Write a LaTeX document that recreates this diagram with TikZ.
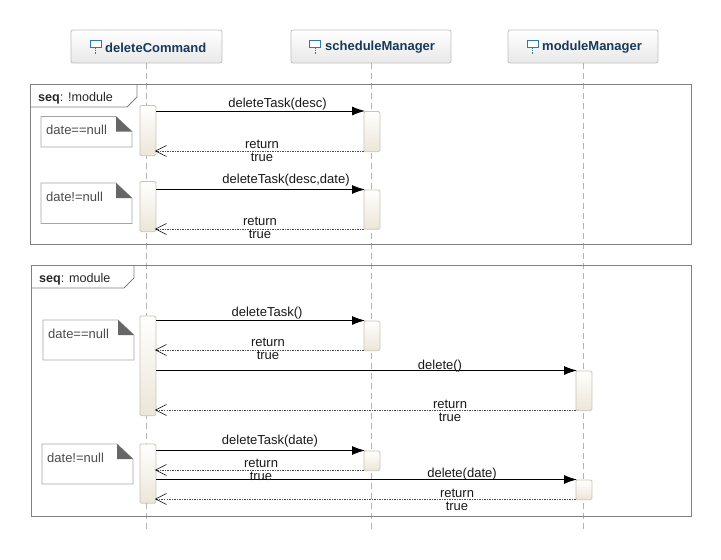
\documentclass[tikz,border=0pt]{standalone}
\usepackage{fontspec}
\setmainfont{Liberation Sans}
\usetikzlibrary{arrows.meta}
\definecolor{headtxt}{HTML}{17395A}
\definecolor{framecol}{HTML}{808080}
\definecolor{actline}{HTML}{C9C4B4}
\definecolor{actfill}{HTML}{EBE6D8}
\definecolor{icon}{HTML}{2E7D9E}
\tikzset{
  x=1pt,y=-1pt,
  headbox/.style={draw=black!25,rounded corners=2pt,top color=white,bottom color=black!9,line width=.8pt},
  headlabel/.style={font=\fontsize{13}{15}\selectfont\bfseries,text=headtxt,inner sep=0pt,anchor=west},
  life/.style={draw=black!30,dash pattern=on 6pt off 4pt,line width=.8pt},
  frm/.style={draw=framecol,line width=.9pt},
  act/.style={draw=actline,rounded corners=1.5pt,top color=white,bottom color=actfill,line width=.8pt},
  notebox/.style={draw=black!35,fill=white,line width=.7pt},
  fold/.style={fill=black!60,draw=none},
  msg/.style={draw=black,line width=.9pt,shorten >=-1.5pt,-{Latex[length=13pt,width=9pt,black]}},
  ret/.style={draw=black!70,line width=.6pt,shorten >=-1.5pt,dash pattern=on 1.5pt off 1pt,-{Straight Barb[length=11pt,width=11pt,black,line width=.6pt]}},
  lbl/.style={font=\fontsize{13}{14}\selectfont,text=black!90,inner sep=0pt,align=center},
  ntxt/.style={font=\fontsize{13}{14}\selectfont,text=black!70,inner sep=0pt,anchor=west},
  ftxt/.style={font=\fontsize{12.6}{14}\selectfont,text=black!85,inner sep=0pt,anchor=west},
}
\newcommand{\headicon}[2]{%
  \draw[icon,line width=.8pt,fill=white] (#1-5.5,#2-6) rectangle (#1+5.5,#2+1);
  \draw[icon,line width=.7pt,dash pattern=on 1.5pt off 1pt] (#1,#2+1) -- (#1,#2+8);
}
\newcommand{\notefig}[6]{% name x0 y0 x1 y1 text
  \draw[notebox] (#2,#3) -- (#4-16,#3) -- (#4,#3+15) -- (#4,#5) -- (#2,#5) -- cycle;
  \fill[fold] (#4-16,#3) -- (#4,#3+15) -- (#4-16,#3+15) -- cycle;
  \node[ntxt] (#1) at (#2+5,#3+13.5) {#6};
}
\begin{document}
\begin{tikzpicture}
\useasboundingbox (0,0) rectangle (721,560);
\fill[white] (0,0) rectangle (721,560);
% heads
\node[headbox,minimum width=151pt,minimum height=33pt,inner sep=0pt] (hA) at (146.5,46.5) {};
\node[headbox,minimum width=160pt,minimum height=33pt,inner sep=0pt] (hB) at (371,46.5) {};
\node[headbox,minimum width=150pt,minimum height=33pt,inner sep=0pt] (hC) at (583,46.5) {};
\node[headlabel] at (105,47.5) {deleteCommand};
\node[headlabel] at (325,47.5) {scheduleManager};
\node[headlabel] at (542,47.5) {moduleManager};
\headicon{95.5}{46}
\headicon{315}{46}
\headicon{532.5}{46}
% lifelines
\coordinate (eA) at (146,530);
\coordinate (eB) at (371,530);
\coordinate (eC) at (583,530);
\draw[life] (hA.south -| eA) -- (eA);
\draw[life] (hB.south -| eB) -- (eB);
\draw[life] (hC.south -| eC) -- (eC);
% frames
\draw[frm] (30,84.5) rectangle (691.5,244);
\draw[frm] (30,107) -- (127,107) -- (137,97) -- (137,84.5);
\node[ftxt] at (38,98.5) {\textbf{seq}: !module};
\draw[frm] (31,265.5) rectangle (691.5,516);
\draw[frm] (31,288) -- (124,288) -- (134,278) -- (134,265.5);
\node[ftxt] at (39,279.5) {\textbf{seq}: module};
% notes
\notefig{n1}{41}{116.5}{132}{147}{date==null}
\notefig{n2}{41}{183}{132}{223.5}{date!=null}
\notefig{n3}{43}{320}{134}{360}{date==null}
\notefig{n4}{42}{444}{133}{484}{date!=null}
% activations
\newcommand{\actbox}[5]{\node[act,minimum width=16pt,minimum height=#5pt-#4pt-.7pt,inner sep=0pt,anchor=north west] (#1) at (#2,#4) {};}
\actbox{a1}{139.5}{}{105}{156}
\actbox{a2}{139.5}{}{181}{232}
\actbox{a3}{139.5}{}{315.5}{416}
\actbox{a4}{139.5}{}{443.5}{503.5}
\actbox{b1}{363.5}{}{111}{152}
\actbox{b2}{363.5}{}{189.5}{229.5}
\actbox{b3}{363.5}{}{320.5}{351}
\actbox{b4}{363.5}{}{450.5}{471}
\actbox{c1}{575.5}{}{370.5}{411}
\actbox{c2}{575.5}{}{479.5}{500}
% messages
\draw[msg] (a1.east |- 0,111) -- (b1.north west);
\draw[ret] (b1.west |- 0,151) -- (a1.east |- 0,151);
\draw[msg] (a2.east |- 0,189.5) -- (b2.north west);
\draw[ret] (b2.west |- 0,229) -- (a2.east |- 0,229);
\draw[msg] (a3.east |- 0,320.5) -- (b3.north west);
\draw[ret] (b3.west |- 0,350) -- (a3.east |- 0,350);
\draw[msg] (a3.east |- 0,370.5) -- (c1.north west);
\draw[ret] (c1.west |- 0,410) -- (a3.east |- 0,410);
\draw[msg] (a4.east |- 0,450.5) -- (b4.north west);
\draw[ret] (b4.west |- 0,470) -- (a4.east |- 0,470);
\draw[msg] (a4.east |- 0,479.5) -- (c2.north west);
\draw[ret] (c2.west |- 0,499) -- (a4.east |- 0,499);
% labels
\node[lbl] at (277.5,104) {deleteTask(desc)};
\node[lbl] at (262,144.5) {return};
\node[lbl] at (262,157.5) {true};
\node[lbl] at (286,180) {deleteTask(desc,date)};
\node[lbl] at (260,221.5) {return};
\node[lbl] at (260,234.5) {true};
\node[lbl] at (267,313) {deleteTask()};
\node[lbl] at (268,342.5) {return};
\node[lbl] at (268,355.5) {true};
\node[lbl] at (440,366) {delete()};
\node[lbl] at (450,404.5) {return};
\node[lbl] at (450,417.5) {true};
\node[lbl] at (270,441) {deleteTask(date)};
\node[lbl] at (261,463.5) {return};
\node[lbl] at (261,476.5) {true};
\node[lbl] at (462,474) {delete(date)};
\node[lbl] at (457,493.5) {return};
\node[lbl] at (457,506.5) {true};
\end{tikzpicture}
\end{document}
